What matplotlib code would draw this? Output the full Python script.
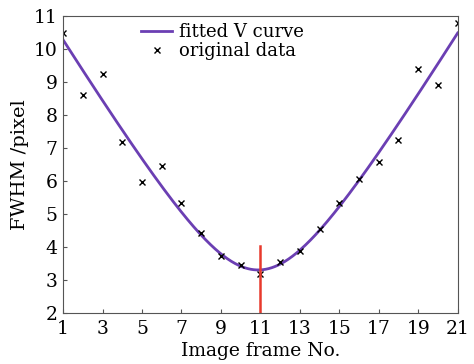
import numpy as np
import matplotlib
matplotlib.use('Agg')
import matplotlib.pyplot as plt

plt.rcParams['font.family'] = 'DejaVu Serif'

# frame number and measured FWHM
frames = np.arange(1, 22)
fwhm = [10.49, 8.61, 9.24, 7.19, 5.97, 6.45, 5.33, 4.41, 3.71, 3.45, 3.18,
        3.53, 3.86, 4.55, 5.33, 6.07, 6.56, 7.24, 9.38, 8.91, 10.79]

best_frame = 11
marker_top = 4.02

# hyperbola fit: fwhm^2 is quadratic in frame number
p = np.polyfit(frames, np.array(fwhm) ** 2, 2)
xs = np.linspace(1, 21, 400)
ys = np.sqrt(np.polyval(p, xs))

fig = plt.figure(figsize=(4.74, 3.64), dpi=100)
ax = fig.add_axes([0.133, 0.141, 0.8326, 0.815])

ax.plot(xs, ys, '-', color='#6b3fb3', lw=2, label='fitted V curve')
ax.plot(frames, fwhm, 'x', color='black', ms=5, mew=1, label='original data')
ax.plot([best_frame, best_frame], [2, marker_top], '-', color='#e8392c', lw=1.8)

ax.set_xlim(1, 21)
ax.set_ylim(2, 11)
ax.set_xticks(np.arange(1, 22, 2))
ax.set_yticks(np.arange(2, 12, 1))
ax.tick_params(direction='in', length=3, labelsize=13.5, colors='#555555',
               labelcolor='black', top=False, right=False)
ax.tick_params(axis='x', pad=5)
ax.tick_params(axis='y', pad=4)
for s in ax.spines.values():
    s.set_color('#555555')

ax.set_xlabel('Image frame No.', fontsize=13.5, labelpad=3)
ax.set_ylabel('FWHM /pixel', fontsize=14, labelpad=3)

ax.legend(loc='upper left', bbox_to_anchor=(0.18, 1.0), frameon=False,
          fontsize=13, handlelength=1.7, handletextpad=0.4, labelspacing=0.05,
          borderaxespad=0)

fig.savefig('out.png', dpi=100)
